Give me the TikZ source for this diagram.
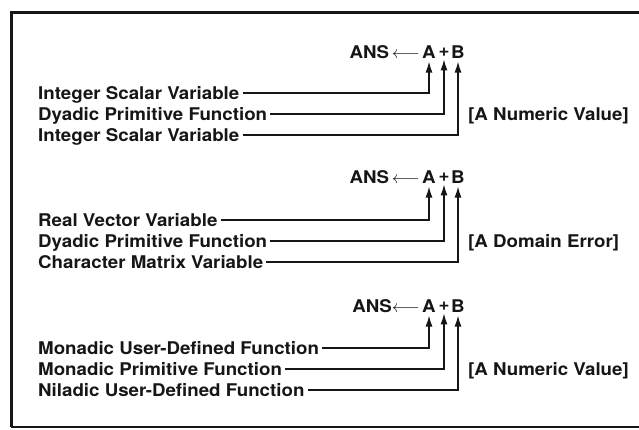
\documentclass[tikz,border=0pt]{standalone}
\usepackage{fontspec}
\setmainfont{TeX Gyre Heros}[FakeStretch=1.07]
\usetikzlibrary{positioning, arrows.meta}
\definecolor{Ink}{HTML}{161616}
\tikzset{
    labelnode/.style={inner sep=0pt, anchor=base west, text=Ink, font=\bfseries\fontsize{17.5}{19}\selectfont},
    exprnode/.style={inner sep=0pt, text=Ink, font=\bfseries\fontsize{17.5}{19}\selectfont},
    link/.style={-{Latex[length=11pt, width=7pt]}, line width=1.2pt, color=Ink, shorten >=3pt},
    frameline/.style={line width=3pt, color=Ink},
}

\begin{document}
\begin{tikzpicture}[x=1pt, y=-1pt]
    \useasboundingbox (0,0) rectangle (639,429);
    \draw[frameline] (639,12) -- (11,12) -- (11,427);
    \draw[line width=1.5pt, color=Ink] (11,427) -- (639,427);

    % first statement
    \node[exprnode] (a1) at (429,52) {A};
    \node[exprnode] (p1) at (444,52) {+};
    \node[exprnode] (b1) at (458,52) {B};
    \node[exprnode, anchor=east] (ans1) at (420,52) {ANS\,$\longleftarrow$};
    \node[labelnode] (x1) at (38,99) {Integer Scalar Variable};
    \node[labelnode] (f1) at (38,120) {Dyadic Primitive Function};
    \node[labelnode] (y1) at (38,141) {Integer Scalar Variable};
    \node[labelnode] (r1) at (468,120) {[A Numeric Value]};
    \draw[link] ([shift={(3pt,6pt)}]x1.base east) -| (a1.south);
    \draw[link] ([shift={(3pt,6pt)}]f1.base east) -| (p1.south);
    \draw[link] ([shift={(3pt,6pt)}]y1.base east) -| (b1.south);

    % second statement
    \node[exprnode] (a2) at (429,177) {A};
    \node[exprnode] (p2) at (444,177) {+};
    \node[exprnode] (b2) at (458,177) {B};
    \node[exprnode, anchor=east] (ans2) at (420,177) {ANS\,$\longleftarrow$};
    \node[labelnode] (x2) at (38,226) {Real Vector Variable};
    \node[labelnode] (f2) at (38,247) {Dyadic Primitive Function};
    \node[labelnode] (y2) at (38,268) {Character Matrix Variable};
    \node[labelnode] (r2) at (468,247) {[A Domain Error]};
    \draw[link] ([shift={(3pt,6pt)}]x2.base east) -| (a2.south);
    \draw[link] ([shift={(3pt,6pt)}]f2.base east) -| (p2.south);
    \draw[link] ([shift={(3pt,6pt)}]y2.base east) -| (b2.south);

    % third statement
    \node[exprnode] (a3) at (429,306) {A};
    \node[exprnode] (p3) at (444,306) {+};
    \node[exprnode] (b3) at (458,306) {B};
    \node[exprnode, anchor=east] (ans3) at (420,306) {ANS$\longleftarrow$};
    \node[labelnode] (x3) at (38,354) {Monadic User-Defined Function};
    \node[labelnode] (f3) at (38,375) {Monadic Primitive Function};
    \node[labelnode] (y3) at (38,396) {Niladic User-Defined Function};
    \node[labelnode] (r3) at (468,375) {[A Numeric Value]};
    \draw[link] ([shift={(3pt,6pt)}]x3.base east) -| (a3.south);
    \draw[link] ([shift={(3pt,6pt)}]f3.base east) -| (p3.south);
    \draw[link] ([shift={(3pt,6pt)}]y3.base east) -| (b3.south);
\end{tikzpicture}
\end{document}
